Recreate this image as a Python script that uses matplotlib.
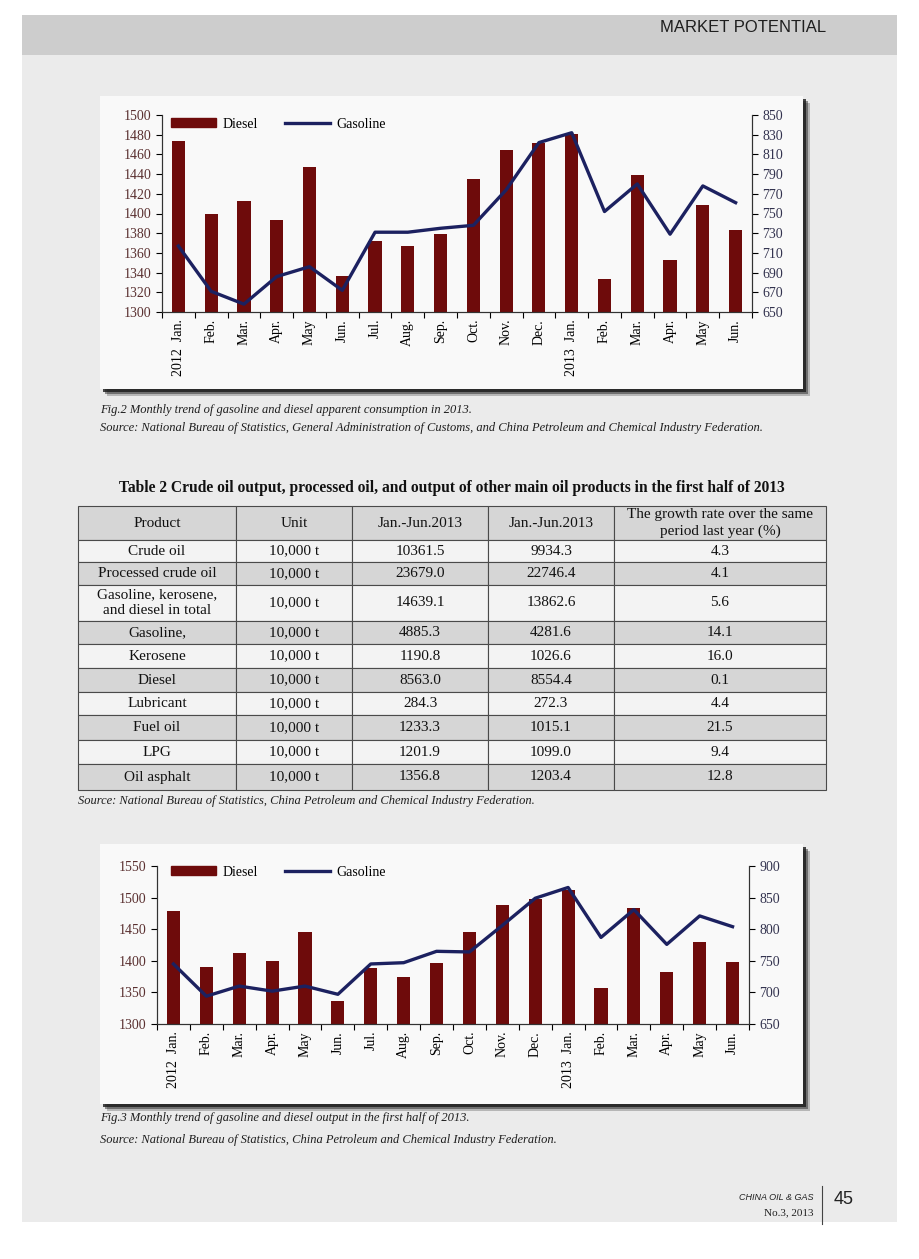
import numpy as np
import matplotlib
matplotlib.use('Agg')
import matplotlib.pyplot as plt
from matplotlib.patches import Rectangle
from matplotlib.lines import Line2D
from matplotlib.table import Table

#---- Data -------------------------------------------------------------------#

months = ['2012  Jan.', 'Feb.', 'Mar.', 'Apr.', 'May', 'Jun.', 'Jul.', 'Aug.',
          'Sep.', 'Oct.', 'Nov.', 'Dec.', '2013  Jan.', 'Feb.', 'Mar.', 'Apr.',
          'May', 'Jun.']

# Fig.2 apparent consumption
cons_diesel = [1474, 1400, 1413, 1393, 1447, 1337, 1372, 1367, 1379, 1435,
               1464, 1472, 1481, 1334, 1439, 1353, 1409, 1383]
cons_gasoline = [717, 671, 658, 686, 696, 672, 731, 731, 735, 738,
                 774, 822, 832, 752, 780, 729, 778, 761]

# Fig.3 output
out_diesel = [1479, 1390, 1413, 1399, 1446, 1336, 1389, 1375, 1397, 1446,
              1489, 1498, 1512, 1357, 1483, 1383, 1429, 1398]
out_gasoline = [745, 694, 710, 702, 710, 697, 745, 747, 765, 764,
                806, 849, 866, 787, 831, 776, 821, 804]

# Table 2
tab_header = ['Product', 'Unit', 'Jan.-Jun.2013', 'Jan.-Jun.2013',
              'The growth rate over the same\nperiod last year (%)']
products = ['Crude oil', 'Processed crude oil',
            'Gasoline, kerosene,\nand diesel in total', 'Gasoline,',
            'Kerosene', 'Diesel', 'Lubricant', 'Fuel oil', 'LPG', 'Oil asphalt']
units = ['10,000 t'] * len(products)
h1_2013 = ['10361.5', '23679.0', '14639.1', '4885.3', '1190.8', '8563.0',
           '284.3', '1233.3', '1201.9', '1356.8']
h1_2012 = ['9934.3', '22746.4', '13862.6', '4281.6', '1026.6', '8554.4',
           '272.3', '1015.1', '1099.0', '1203.4']
growth = ['4.3', '4.1', '5.6', '14.1', '16.0', '0.1', '4.4', '21.5', '9.4', '12.8']

#---- Style ------------------------------------------------------------------#

W, H = 920, 1259
BAR = '#6e0b0b'
LINE = '#1c2160'
plt.rcParams['font.family'] = ['Liberation Serif', 'DejaVu Serif']

def frac(x0, y0, x1, y1):
    # pixel box (top-left origin) -> figure fraction rect
    return [x0 / W, 1 - y1 / H, (x1 - x0) / W, (y1 - y0) / H]

fig = plt.figure(figsize=(W / 100, H / 100), dpi=100)
fig.patch.set_facecolor('white')

#---- Page background --------------------------------------------------------#

bg = fig.add_axes([0, 0, 1, 1])
bg.set_xlim(0, W)
bg.set_ylim(H, 0)
bg.axis('off')

bg.add_patch(Rectangle((22, 55), 875, 1167, color='#ebebeb', lw=0))
bg.add_patch(Rectangle((22, 15), 875, 40, color='#cdcdcd', lw=0))
bg.text(826, 27, 'MARKET POTENTIAL', ha='right', va='center', fontsize=12,
        family='Liberation Sans', color='#1e1e1e')

def panel(x0, y0, x1, y1):
    for k, a in [(7, 0.25), (5, 0.45), (3, 0.8)]:
        bg.add_patch(Rectangle((x0 + k, y0 + k), x1 - x0, y1 - y0,
                               color='#1a1a1a', alpha=a, lw=0))
    bg.add_patch(Rectangle((x0, y0), x1 - x0, y1 - y0, color='#f9f9f9', lw=0))

panel(100, 96, 803, 389)
panel(100, 844, 803, 1104)

cap = dict(fontsize=9, style='italic', color='#1e1e1e', va='center')
bg.text(100, 410, 'Fig.2 Monthly trend of gasoline and diesel apparent '
        'consumption in 2013.', **cap)
bg.text(100, 428, 'Source: National Bureau of Statistics, General Administration '
        'of Customs, and China Petroleum and Chemical Industry Federation.', **cap)
bg.text(78, 801, 'Source: National Bureau of Statistics, China Petroleum and '
        'Chemical Industry Federation.', **cap)
bg.text(100, 1118, 'Fig.3 Monthly trend of gasoline and diesel output in the '
        'first half of 2013.', **cap)
bg.text(100, 1140, 'Source: National Bureau of Statistics, China Petroleum and '
        'Chemical Industry Federation.', **cap)

bg.text(452, 488, 'Table 2 Crude oil output, processed oil, and output of other '
        'main oil products in the first half of 2013', ha='center', va='center',
        fontsize=11.2, weight='bold', color='#111111')

# footer
bg.text(814, 1197, 'CHINA OIL & GAS', ha='right', va='center', fontsize=6.5,
        style='italic', family='Liberation Sans', color='#222222')
bg.text(814, 1213, 'No.3, 2013', ha='right', va='center', fontsize=8,
        color='#222222')
bg.plot([822, 822], [1186, 1224], color='#444444', lw=0.8)
bg.text(834, 1200, '45', ha='left', va='center', fontsize=13,
        family='Liberation Sans', color='#222222')

#---- Table ------------------------------------------------------------------#

col_w = [158, 116, 136, 126, 212]
row_h = [34, 22, 23, 36, 23, 24, 24, 23, 25, 24, 26]
tb = Table(bg, bbox=[78 / W, 1 - 790 / H, 748 / W, 284 / H])
rows = [tab_header] + [list(r) for r in zip(products, units, h1_2013, h1_2012, growth)]
for r, vals in enumerate(rows):
    face = '#d6d6d6' if r % 2 == 0 else '#f3f3f3'
    for c, v in enumerate(vals):
        cell = tb.add_cell(r, c, col_w[c], row_h[r], text=v, loc='center',
                           facecolor=face, edgecolor='#4a4a4a')
        cell.set_linewidth(0.8)
        cell.get_text().set_color('#111111')
        cell.get_text().set_linespacing(1.3)
tb.auto_set_font_size(False)
tb.set_fontsize(11)
tb.set_zorder(5)
bg.add_table(tb)

#---- Charts -----------------------------------------------------------------#

def chart(box, diesel, gasoline, lticks, rticks, leg_xy):
    x = np.arange(len(months))
    ax = fig.add_axes(frac(*box))
    ax.patch.set_alpha(0)
    ax.bar(x, diesel, width=0.4, color=BAR, zorder=2)
    ax.set_xlim(-0.5, len(months) - 0.5)
    ax.set_ylim(lticks[0], lticks[-1])
    ax.set_yticks(lticks)
    ax.set_xticks(x)
    ax.set_xticklabels(months, rotation=90, fontsize=10)
    ax.set_xticks(np.arange(-0.5, len(months)), minor=True)
    ax.tick_params(axis='x', which='major', length=0, pad=5)
    ax.tick_params(axis='x', which='minor', length=4, width=0.8, direction='out')
    ax.tick_params(axis='y', length=4, width=0.8, labelsize=10,
                   labelcolor='#5a3030')
    ax.spines['top'].set_visible(False)
    for s in ax.spines.values():
        s.set_linewidth(0.8)
        s.set_color('#333333')

    ax2 = ax.twinx()
    ax2.plot(x, gasoline, color=LINE, lw=2.4, zorder=3)
    ax2.set_ylim(rticks[0], rticks[-1])
    ax2.set_yticks(rticks)
    ax2.tick_params(axis='y', length=4, width=0.8, labelsize=10,
                    labelcolor='#33334f')
    ax2.spines['top'].set_visible(False)
    for s in ax2.spines.values():
        s.set_linewidth(0.8)
        s.set_color('#333333')

    handles = [Rectangle((0, 0), 1, 1, color=BAR),
               Line2D([], [], color=LINE, lw=2.4)]
    ax2.legend(handles, ['Diesel', 'Gasoline'], loc='upper left',
               bbox_to_anchor=leg_xy, bbox_transform=bg.transData, ncol=2,
               frameon=False, handlelength=3.2, handleheight=0.55,
               columnspacing=2.0, handletextpad=0.45, fontsize=10)
    return ax

chart((162, 115, 752, 312), cons_diesel, cons_gasoline,
      np.arange(1300, 1501, 20), np.arange(650, 851, 20), (159, 105))
chart((157, 866, 749, 1024), out_diesel, out_gasoline,
      np.arange(1300, 1551, 50), np.arange(650, 901, 50), (159, 853))

plt.savefig('out.png', dpi=100)
